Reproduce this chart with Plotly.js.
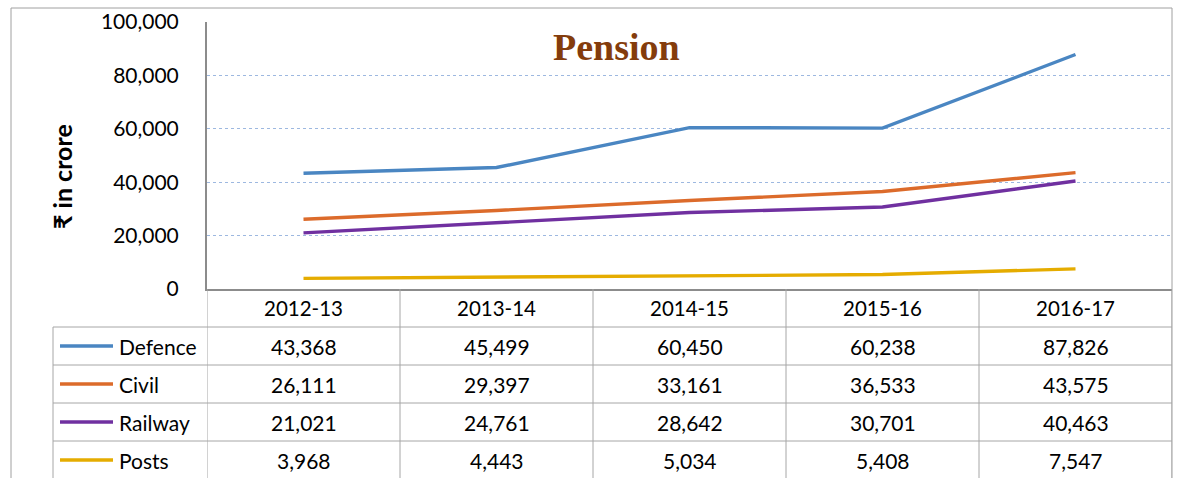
<!DOCTYPE html>
<html>
<head>
<meta charset="utf-8">
<script src="https://cdn.plot.ly/plotly-3.0.1.min.js"></script>
<style>
html,body{margin:0;padding:0;background:#fff;}
#chart{width:1178px;height:478px;}
</style>
</head>
<body>
<div id="chart"></div>
<script>
const categories = ["2012-13", "2013-14", "2014-15", "2015-16", "2016-17"];
const seriesNames = ["Defence", "Civil", "Railway", "Posts"];
const defence = [43368, 45499, 60450, 60238, 87826];
const civil = [26111, 29397, 33161, 36533, 43575];
const railway = [21021, 24761, 28642, 30701, 40463];
const posts = [3968, 4443, 5034, 5408, 7547];
const seriesColors = ["#4A86C2", "#DC6B2B", "#7030A0", "#E5AC00"];
const yTickValues = [0, 20000, 40000, 60000, 80000, 100000];

const allSeries = [defence, civil, railway, posts];

const W = 1178, H = 478;
const L = 207, R = 1172, T = 22, B = 289;
const xp = px => (px - L) / (R - L);
const yp = py => (B - py) / (B - T);

const FONT = "Lato, 'Noto Sans', 'DejaVu Sans', sans-serif";
const axisColor = "#8c8c8c";
const tableLine = "#a6a6a6";

const traces = allSeries.map((vals, i) => ({
  type: "scatter",
  mode: "lines",
  x: categories,
  y: vals,
  name: seriesNames[i],
  line: {color: seriesColors[i], width: 3.4},
  hoverinfo: "skip"
}));

const rowH = 38;
const headerTop = B, headerBot = B + rowH;
const rowTops = [0,1,2,3].map(i => headerBot + i * rowH);
const tableBottom = headerBot + 4 * rowH + 20;
const labelLeft = 53;

const shapes = [];
// outer chart border
shapes.push({type:"rect", xref:"paper", yref:"paper", x0:xp(11), x1:xp(1172), y0:yp(8), y1:yp(H+20),
  line:{color:"#a0a0a0", width:1}, layer:"below"});
// horizontal table lines
[headerBot].concat(rowTops.slice(1)).forEach(py => {
  shapes.push({type:"line", xref:"paper", yref:"paper", x0:xp(labelLeft), x1:xp(R), y0:yp(py), y1:yp(py),
    line:{color:tableLine, width:1}});
});
// left border of label column
shapes.push({type:"line", xref:"paper", yref:"paper", x0:xp(labelLeft), x1:xp(labelLeft), y0:yp(headerBot), y1:yp(tableBottom),
  line:{color:tableLine, width:1}});
// vertical category boundaries
for (let i = 0; i <= categories.length; i++) {
  shapes.push({type:"line", xref:"x", yref:"paper", x0:i - 0.5, x1:i - 0.5, y0:yp(headerTop), y1:yp(tableBottom),
    line:{color:tableLine, width:1}});
}
// legend keys
seriesNames.forEach((n, i) => {
  const cy = rowTops[i] + rowH / 2;
  shapes.push({type:"line", xref:"paper", yref:"paper", x0:xp(60), x1:xp(113), y0:yp(cy), y1:yp(cy),
    line:{color:seriesColors[i], width:3.4}});
});

const annotations = [];
// title
annotations.push({xref:"paper", yref:"paper", x:xp(616), y:yp(47), text:"<b>Pension</b>", showarrow:false,
  font:{family:"'Liberation Serif', 'Times New Roman', serif", size:38, color:"#843C0C"}, xanchor:"center", yanchor:"middle"});
// y axis title
annotations.push({xref:"paper", yref:"paper", x:xp(62), y:yp(177), text:"<b>₹ in crore</b>", showarrow:false, textangle:-90,
  font:{family:FONT, size:25, color:"#000"}, xanchor:"center", yanchor:"middle"});
// header categories
categories.forEach((c, j) => {
  annotations.push({xref:"x", yref:"paper", x:j, y:yp(headerTop + rowH / 2), text:c, showarrow:false,
    font:{family:FONT, size:20.5, color:"#000"}, xanchor:"center", yanchor:"middle"});
});
// rows
seriesNames.forEach((n, i) => {
  const cy = rowTops[i] + rowH / 2;
  annotations.push({xref:"paper", yref:"paper", x:xp(117), y:yp(cy), text:n, showarrow:false,
    font:{family:FONT, size:21, color:"#000"}, xanchor:"left", yanchor:"middle"});
  allSeries[i].forEach((v, j) => {
    annotations.push({xref:"x", yref:"paper", x:j, y:yp(cy), text:v.toLocaleString("en-US"), showarrow:false,
      font:{family:FONT, size:21, color:"#000"}, xanchor:"center", yanchor:"middle"});
  });
});

const layout = {
  width: W, height: H,
  margin: {l: L, r: W - R, t: T, b: H - B, pad: 0},
  paper_bgcolor: "#fff", plot_bgcolor: "#fff",
  showlegend: false,
  xaxis: {
    type: "category", range: [-0.5, categories.length - 0.5],
    showticklabels: false, showgrid: false, zeroline: false, ticks: "",
    showline: true, linecolor: axisColor, linewidth: 2, fixedrange: true
  },
  yaxis: {
    range: [0, 100000], tickvals: yTickValues, tickformat: ",d",
    showgrid: true, gridcolor: "#9db8e0", gridwidth: 1, griddash: "dot",
    zeroline: false, showline: true, linecolor: axisColor, linewidth: 2,
    ticks: "", ticklabelstandoff: 22,
    tickfont: {family: FONT, size: 21, color: "#000"}, fixedrange: true
  },
  shapes: shapes,
  annotations: annotations
};

Plotly.newPlot("chart", traces, layout, {displayModeBar: false, staticPlot: true});
</script>
</body>
</html>
